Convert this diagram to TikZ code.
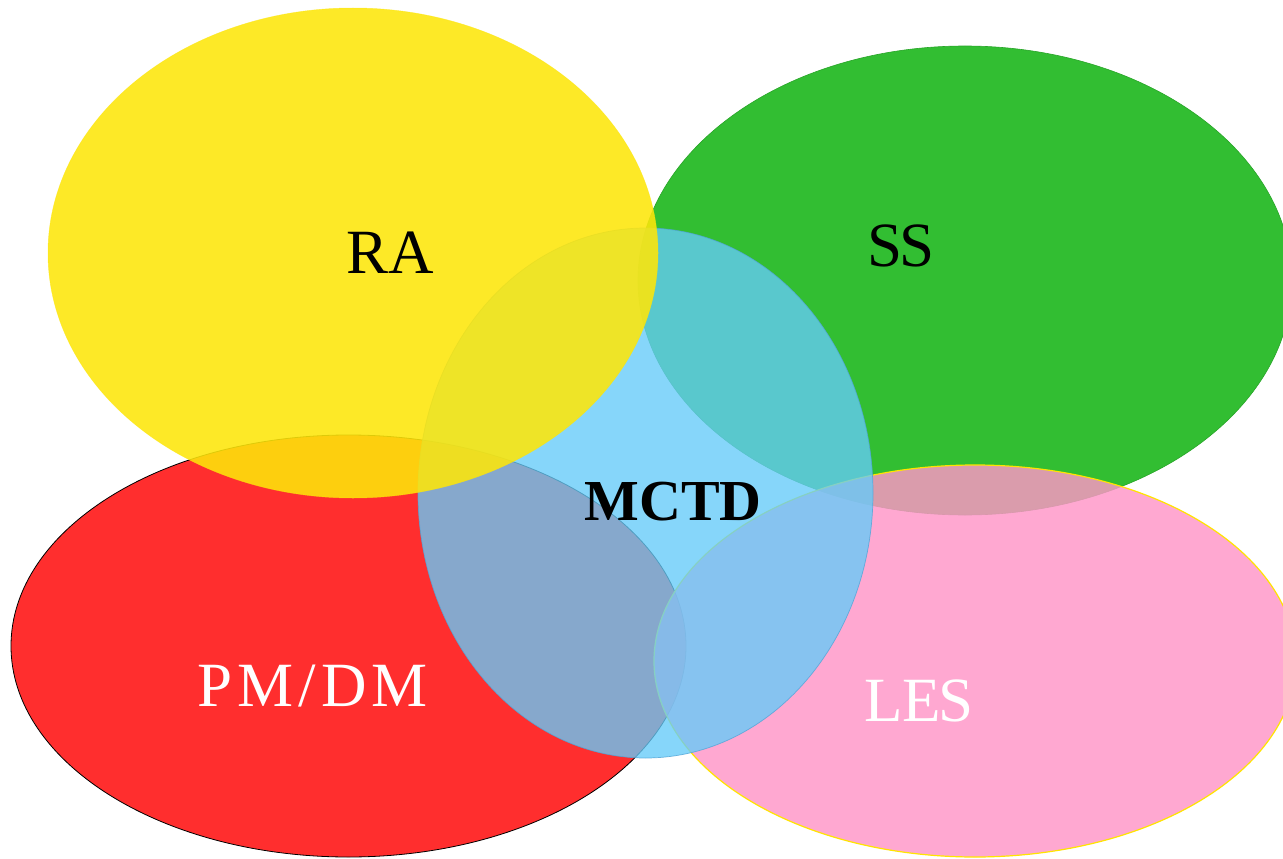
\documentclass[tikz,border=0pt]{standalone}
\usepackage{fontspec}
\setmainfont{Liberation Serif}
\definecolor{cyel}{RGB}{253,230,10}
\definecolor{cred}{RGB}{255,46,46}
\definecolor{cgreen}{RGB}{50,190,50}
\definecolor{cgreenline}{RGB}{40,165,40}
\definecolor{cpink}{RGB}{255,149,200}
\definecolor{cblue}{RGB}{101,203,249}
\definecolor{cblueline}{RGB}{80,165,215}
\definecolor{cpinkline}{RGB}{255,228,0}
\tikzset{
  setA/.style={fill=cred, draw=black, line width=0.8pt},
  setB/.style={fill=cgreen, draw=cgreenline, line width=0.6pt},
  setC/.style={fill=cpink, fill opacity=0.82, draw=cpinkline, draw opacity=1, line width=1.2pt},
  setD/.style={fill=cblue, fill opacity=0.78, draw=cblueline, draw opacity=0.8, line width=0.7pt},
  setE/.style={fill=cyel, fill opacity=0.88, draw=cyel, draw opacity=0.6, line width=0.5pt},
  lbl/.style={anchor=base, inner sep=0pt, font=\fontsize{63}{70}\selectfont},
  lblbold/.style={anchor=base, inner sep=0pt, font=\fontsize{58}{64}\selectfont\bfseries}
}
\begin{document}
\begin{tikzpicture}[x=1pt, y=-1pt]
\useasboundingbox (0,0) rectangle (1283,859);
\fill[white] (0,0) rectangle (1283,859);
% sets
\draw[setA] (348.5,646) ellipse [x radius=337.5pt, y radius=211pt];
\draw[setB] (965,280.5) ellipse [x radius=327pt, y radius=234.5pt];
\draw[setC] (975,661) ellipse [x radius=321pt, y radius=196pt];
\draw[setD] (645.5,493) ellipse [x radius=227.5pt, y radius=265pt];
\draw[setE] (353,253) ellipse [x radius=305pt, y radius=245pt];
% labels
\node[lbl, text=black] (ra) at (390,273) {RA};
\node[lbl, text=black] (ss) at (901,266) {S\kern-3pt S};
\node[lbl, text=white] (pmdm) at (313,706) {P\kern5pt M\kern5pt /\kern5pt D\kern5pt M};
\node[lbl, text=white] (les) at (919,721) {L\kern-1pt E\kern-2pt S};
\node[lblbold, text=black] (mctd) at (673,520) {MCTD};
\end{tikzpicture}
\end{document}
